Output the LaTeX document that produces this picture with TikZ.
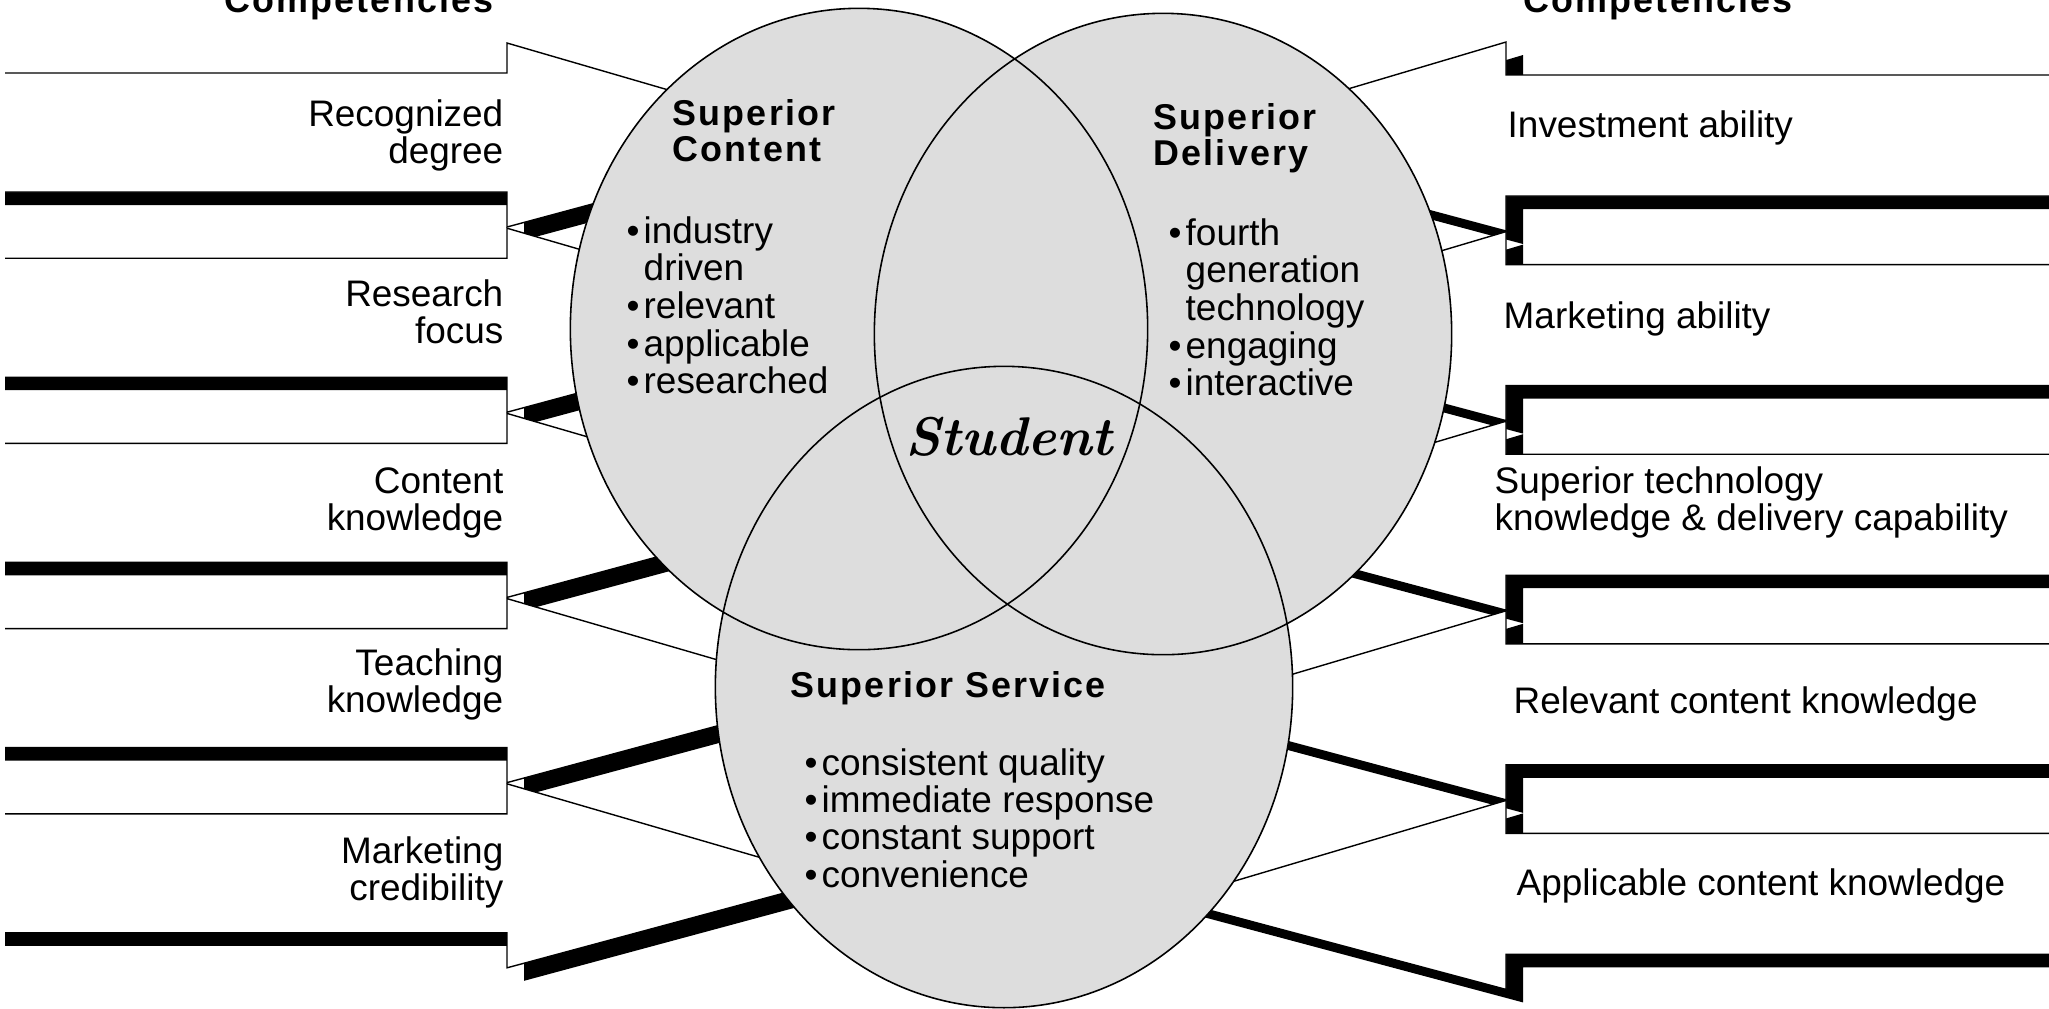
\documentclass[tikz,border=0pt]{standalone}
\usepackage{fontspec}
\setmainfont{Liberation Sans}
\newfontfamily\titlefont{Liberation Sans}[LetterSpace=6]
\newfontfamily\stufont{lmroman10-bolditalic.otf}
\usetikzlibrary{shapes.geometric}
\definecolor{venngray}{RGB}{221,221,221}
\newcommand\lstack[1]{\begin{tabular}[t]{@{}l@{}}#1\end{tabular}}
\newcommand\rstack[1]{\begin{tabular}[t]{@{}r@{}}#1\end{tabular}}
\newcommand\bul{\makebox[0.17cm][l]{\textbullet}}
\newcommand\nobul{\hspace*{0.17cm}}

\begin{document}
\begin{tikzpicture}[x=0.01cm, y=-0.01cm,
    txt/.style={inner sep=0pt, font=\fontsize{10.5}{10.4}\selectfont},
    head/.style={inner sep=0pt, font=\titlefont\bfseries\fontsize{10.2}{10.4}\selectfont},
    venn/.style={ellipse, inner sep=0pt, minimum width=5.77cm, minimum height=6.41cm},
    plate/.style={draw=black, line width=0.4pt},
    shade/.style={fill=black}]
\useasboundingbox (0,0) rectangle (2049,1008);
\fill[white] (0,0) rectangle (2049,1008);

% left arrows, pointing into the circles
\foreach \k in {0,...,4}{
  \pgfmathsetmacro\T{73+185.2*\k}
  \pgfmathsetmacro\B{\T+119}
  \pgfmathsetmacro\M{(\T+\B)/2+6}
  \fill[shade, shift={(17,13)}] (-12,\T) -- (507,\T) -- (507,\T-30) -- (835,\M) -- (507,\B+35) -- (507,\B) -- (-12,\B) -- cycle;
  \fill[white] (5,\T) -- (507,\T) -- (507,\T-30) -- (835,\M) -- (507,\B+35) -- (507,\B) -- (5,\B) -- cycle;
  \draw[plate] (5,\T) -- (507,\T) -- (507,\T-30) -- (835,\M) -- (507,\B+35) -- (507,\B) -- (5,\B);
}

% right arrows
\foreach \k in {0,...,4}{
  \pgfmathsetmacro\T{75+189.6*\k}
  \pgfmathsetmacro\B{\T+121}
  \pgfmathsetmacro\M{(\T+\B)/2+6}
  \fill[shade, shift={(17,13)}] (2070,\T) -- (1506,\T) -- (1506,\T-33) -- (1171,\M) -- (1506,\B+35) -- (1506,\B) -- (2070,\B) -- cycle;
  \filldraw[plate, fill=white] (2070,\T) -- (1506,\T) -- (1506,\T-33) -- (1171,\M) -- (1506,\B+35) -- (1506,\B) -- (2070,\B) -- cycle;
}

% the three circles
\node[venn, fill=venngray] (content) at (859,329) {};
\node[venn, fill=venngray] (delivery) at (1163,334) {};
\node[venn, fill=venngray] (service) at (1004,687) {};
\foreach \n in {content,delivery,service}
  \node[venn, draw, line width=0.45pt] at (\n.center) {};

% headers
\node[head, anchor=base] (lcomp) at (359,12) {Competencies};
\node[head, anchor=base] (rcomp) at (1658,12) {Competencies};

% left labels
\node[txt, anchor=base east] (degree) at (504,126) {\rstack{Recognized\\degree}};
\node[txt, anchor=base east] (research) at (504,306) {\rstack{Research\\focus}};
\node[txt, anchor=base east] (cknow) at (504,493) {\rstack{Content\\knowledge}};
\node[txt, anchor=base east] (tknow) at (504,675) {\rstack{Teaching\\knowledge}};
\node[txt, anchor=base east] (mcred) at (504,863) {\rstack{Marketing\\credibility}};

% right labels
\node[txt, anchor=base west] (invest) at (1507,137) {Investment ability};
\node[txt, anchor=base west] (market) at (1503,328) {Marketing ability};
\node[txt, anchor=base west] (tech) at (1494,493) {\lstack{Superior technology\\knowledge \& delivery capability}};
\node[txt, anchor=base west] (relev) at (1513,713) {Relevant content knowledge};
\node[txt, anchor=base west] (applic) at (1516,895) {Applicable content knowledge};

% circle texts
\node[head, anchor=base west] (ctitle) at (672,125) {\lstack{Superior\\Content}};
\node[head, anchor=base west] (dtitle) at (1153,129) {\lstack{Superior\\Delivery}};
\node[head, anchor=base west] (stitle) at (790,697) {Superior Service};
\node[txt, anchor=base west] (clist) at (626,243)
  {\lstack{\bul industry\\\nobul driven\\\bul relevant\\\bul applicable\\\bul researched}};
\node[txt, anchor=base west] (dlist) at (1168,245)
  {\lstack{\bul fourth\\\nobul generation\\\nobul technology\\\bul engaging\\\bul interactive}};
\node[txt, anchor=base west] (slist) at (804,775)
  {\lstack{\bul consistent quality\\\bul immediate response\\\bul constant support\\\bul convenience}};
\node[inner sep=0pt, font=\stufont\fontsize{15.5}{16}\selectfont] (student) at (1009,437) {Student};
\end{tikzpicture}
\end{document}
